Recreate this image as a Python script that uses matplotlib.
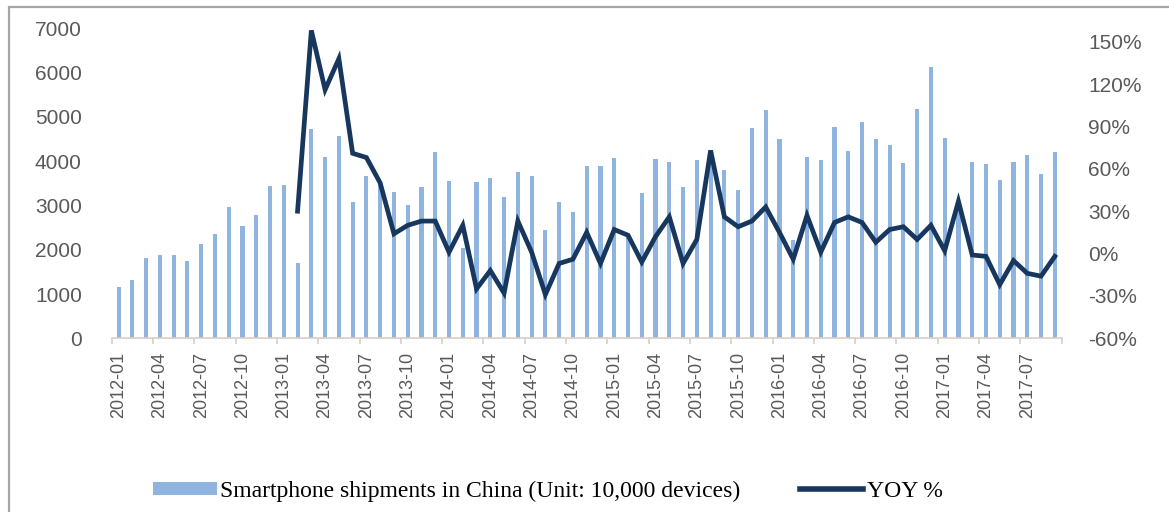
import matplotlib
matplotlib.use("Agg")
import matplotlib.pyplot as plt
from matplotlib.patches import Rectangle, Patch
from matplotlib.lines import Line2D
import numpy as np

plt.rcParams["font.family"] = "sans-serif"
plt.rcParams["font.sans-serif"] = ["Liberation Sans", "DejaVu Sans"]

# Monthly smartphone shipments in China (10,000 units), 2012-01 .. 2017-09
months = [f"{y}-{m:02d}" for y in range(2012, 2018) for m in range(1, 13)][:69]

shipments = [
    1150, 1320, 1810, 1880, 1880, 1750, 2130, 2350, 2970, 2530, 2790, 3440,   # 2012
    3460, 1690, 4730, 4090, 4570, 3070, 3670, 3500, 3310, 3000, 3410, 4200,   # 2013
    3550, 2030, 3520, 3610, 3200, 3750, 3670, 2450, 3070, 2860, 3880, 3880,   # 2014
    4080, 2290, 3270, 4050, 3990, 3420, 4030, 4250, 3790, 3350, 4740, 5160,   # 2015
    4500, 2210, 4090, 4030, 4780, 4240, 4880, 4500, 4370, 3950, 5180, 6120,   # 2016
    4530, 3000, 3990, 3930, 3580, 3990, 4140, 3710, 4200,                     # 2017
]

# Year-on-year growth (%); the series begins at 2013-02
yoy = [np.nan] * 13 + [
    30, 158, 116, 138, 71, 68, 50, 14, 20, 23, 23,          # 2013-02 .. 2013-12
    1, 20, -25, -12, -28, 23, 1, -29, -7, -4, 15, -7,       # 2014
    17, 13, -6, 12, 26, -7, 10, 73, 26, 19, 23, 33,         # 2015
    15, -4, 27, 1, 22, 26, 22, 8, 17, 19, 10, 20,           # 2016
    2, 37, -1, -2, -22, -5, -14, -16, -2,                   # 2017
]

left_ticks = [0, 1000, 2000, 3000, 4000, 5000, 6000, 7000]
right_ticks = [-60, -30, 0, 30, 60, 90, 120, 150]

bar_color = "#8FB4E0"
line_color = "#17375E"
label_color = "#595959"

W, H = 1169, 512
fig = plt.figure(figsize=(W / 100, H / 100), dpi=100)
fig.patch.set_facecolor("white")

x0, x1, ytop, ybot = 111.7, 1061.7, 28.3, 338.3
ax = fig.add_axes([x0 / W, 1 - ybot / H, (x1 - x0) / W, (ybot - ytop) / H])

x = np.arange(len(months))
ax.bar(x, shipments, width=0.3, color=bar_color, zorder=2)
ax.set_xlim(-0.5, len(months) - 0.5)
ax.set_ylim(0, 7000)

for s in ("top", "right", "left"):
    ax.spines[s].set_visible(False)
ax.spines["bottom"].set_color("#D9CFC4")
ax.spines["bottom"].set_linewidth(1.2)

# category labels every quarter, tick marks on category boundaries
ax.set_xticks(np.arange(-0.5, len(months), 3))
ax.set_xticklabels([])
ax.set_xticks(np.arange(0, len(months), 3), minor=True)
ax.set_xticklabels([months[i] for i in range(0, len(months), 3)], minor=True,
                   rotation=90, fontsize=13, color=label_color)
ax.tick_params(axis="x", which="major", length=4, width=1.2, color="#D9CFC4",
               direction="out")
ax.tick_params(axis="x", which="minor", length=0, pad=10)

ax.set_yticks(left_ticks)
ax.set_yticklabels([str(v) for v in left_ticks], fontsize=15, color=label_color)
ax.tick_params(axis="y", length=0, pad=21.5)

ax2 = ax.twinx()
ax2.plot(x, yoy, color=line_color, lw=3.4, solid_joinstyle="miter",
         zorder=3, clip_on=False)
ax2.set_ylim(-60, 159.5)
ax2.set_yticks(right_ticks)
ax2.set_yticklabels([f"{v}%" for v in right_ticks], fontsize=15,
                    color=label_color)
ax2.tick_params(axis="y", length=0, pad=19)
for s in ("top", "right", "left", "bottom"):
    ax2.spines[s].set_visible(False)

handles = [Patch(facecolor=bar_color, edgecolor="none"),
           Line2D([], [], color=line_color, lw=4)]
labels = ["Smartphone shipments in China (Unit: 10,000 devices)", "YOY %"]
fig.legend(handles, labels, loc="center", bbox_to_anchor=(548 / W, 1 - 491 / H),
           ncol=2, frameon=False, prop={"family": "Liberation Serif", "size": 17},
           handlelength=2.7, handleheight=0.45, handletextpad=0.15,
           columnspacing=2.5)

# outer frame
fig.patches.append(Rectangle((9 / W, -0.1), 1.2, 1.1 - 7 / H,
                             transform=fig.transFigure, fill=False,
                             edgecolor="#A6A6A6", lw=1.6))

fig.savefig("out.png", dpi=100)
